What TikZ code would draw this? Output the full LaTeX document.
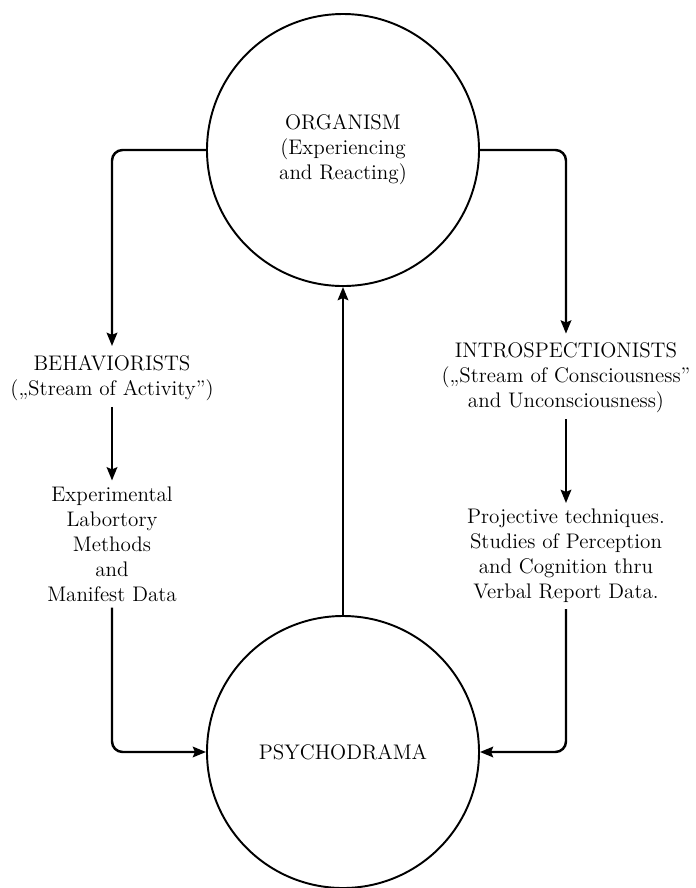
\documentclass[tikz,border=0pt]{standalone}
\usepackage{amsmath}
\usepackage{tikz}
\usetikzlibrary{positioning,shapes,arrows.meta}

\begin{document}
\begin{tikzpicture}[scale=0.2,>={Stealth[length=7.5pt,width=6pt,inset=1.2pt]}]
\tikzstyle{every node}+=[font=\fontsize{12}{14.2}\selectfont, align=center]
\tikzstyle{blob}=[draw=black, circle, line width=1.1pt, minimum size=5.44cm, inner sep=0pt]
\tikzstyle{flow}=[draw=black, line width=1.4pt, ->, rounded corners=6pt]
\useasboundingbox (0,0) rectangle (69.6,-88.8);
\node [blob] (org) at (34.3,-15.0) {ORGANISM\\(Experiencing\\and Reacting)};
\node [blob] (psy) at (34.3,-75.2) {PSYCHODRAMA};
\node (beh) at (11.2,-37.8) {BEHAVIORISTS\\(,,Stream of Activity'')};
\node (exp) at (11.2,-54.4) {Experimental\\Labortory\\Methods\\and\\Manifest Data};
\node (intro) at (56.6,-37.8) {INTROSPECTIONISTS\\(,,Stream of Consciousness''\\and Unconsciousness)};
\node (proj) at (56.6,-55.6) {Projective techniques.\\Studies of Perception\\and Cognition thru\\Verbal Report Data.};
% organism out to both schools
\draw [flow] (org.west) -| ([yshift=9pt]beh.north);
\draw [flow] (org.east) -| ([yshift=9pt]intro.north);
% schools to their methods
\draw [flow] (beh.south) -- (exp.north);
\draw [flow] (intro.south) -- (proj.north);
% methods into psychodrama
\draw [flow] (exp.south) |- (psy.west);
\draw [flow] (proj.south) |- (psy.east);
\draw [flow] (psy.north) -- (org.south);
\end{tikzpicture}
\end{document}
